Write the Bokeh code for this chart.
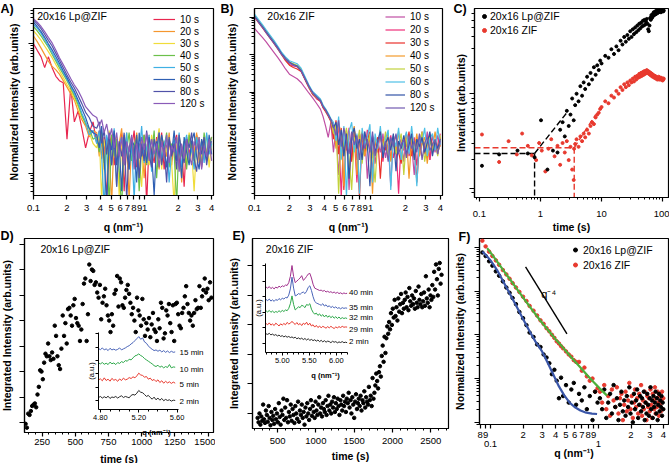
import numpy as np
from bokeh.plotting import figure
from bokeh.layouts import column, row
from bokeh.models import (Range1d, FixedTicker, LogAxis, Label, Legend, LegendItem,
                          CustomJSTickFormatter, NumeralTickFormatter)
from bokeh.embed import file_html
from bokeh.resources import INLINE

FONT = "Liberation Sans"
NAN = float("nan")

# ------------------------------------------------------------------ data
# Panels A/B: q grid (nm^-1) and log10 of the normalized intensity per time
Q_AB = [0.100, 0.108, 0.117, 0.126, 0.136, 0.147, 0.159, 0.171, 0.185, 0.200, 0.216, 0.233, 0.252, 0.272, 0.294, 0.317, 0.343,
        0.370, 0.390, 0.410, 0.432, 0.455, 0.479, 0.504, 0.531, 0.559, 0.589, 0.620, 0.653, 0.688, 0.724, 0.763, 0.803, 0.846, 0.891, 0.938, 0.988,
        1.040, 1.095, 1.153, 1.215, 1.279, 1.347, 1.419, 1.494, 1.573, 1.657, 1.745, 1.837, 1.935, 2.038, 2.146, 2.260, 2.380, 2.506, 2.639, 2.779, 2.927, 3.082, 3.246, 3.418, 3.600, 3.791, 3.992]
TIMES = ["10 s", "20 s", "30 s", "40 s", "50 s", "60 s", "80 s", "120 s"]

A_10 = [3.00, 2.85, 2.70, 2.45, 2.70, 2.45, 2.25, 2.15, 2.10, 0.80, 2.00, 1.20, 1.45, 1.05, 0.60, 0.95, 1.20,
        0.70, 1.00, 0.35, 0.85, -0.60, 0.65, 0.90, 0.20, 0.75, 0.50, 0.95, -0.40, 0.80, 0.30, 0.60, 1.00, 0.15, 0.70, 0.45, 0.90, -0.70, 0.75, 0.55, 0.25, 0.85, 0.40, 0.95, 0.10, 0.65, 0.80, 0.35, 0.70, 0.90, 0.20, 0.60, -0.30, 0.85, 0.45, 0.75, 0.30, 0.90, 0.55, 0.15, 0.80, 0.40, 0.65, 0.85]
A_20 = [3.18, 3.05, 2.90, 2.75, 2.60, 2.48, 2.40, 2.30, 2.15, 2.00, 1.85, 1.70, 1.45, 1.25, 1.10, 0.85, 1.00,
        0.95, 0.40, 0.75, 0.10, 0.85, 0.55, -0.70, 0.90, 0.30, 0.70, 1.05, 0.20, 0.65, -0.60, 0.80, 0.45, 0.95, 0.35, 0.75, -0.10, 0.60, 0.90, 0.25, 0.80, 0.50, 0.10, 0.85, 0.65, 0.40, 0.95, 0.20, 0.70, 0.55, 0.90, -0.20, 0.65, 0.80, 0.30, 0.75, 0.50, 0.95, 0.25, 0.60, 0.85, 0.40, 0.70, 0.55]
A_30 = [3.30, 3.20, 3.08, 2.95, 2.82, 2.68, 2.52, 2.38, 2.22, 2.06, 1.92, 1.75, 1.55, 1.30, 1.20, 0.95, 0.70,
        0.60, 0.90, -0.60, 0.80, 0.45, 1.00, 0.20, 0.65, 0.85, -0.50, 0.70, 0.40, 0.95, 0.15, 0.75, 0.55, 0.90, 0.30, -0.30, 0.80, 0.60, 0.20, 0.90, 0.45, 0.70, 1.05, 0.10, 0.75, 0.50, 0.85, 0.25, -0.70, 0.65, 0.90, 0.40, 0.75, 0.20, 0.95, 0.55, -0.40, 0.70, 0.85, 0.35, 0.60, 0.90, 0.15, 0.70]
A_40 = [3.40, 3.30, 3.18, 3.05, 2.92, 2.76, 2.60, 2.45, 2.30, 2.15, 1.98, 1.80, 1.60, 1.35, 1.15, 1.05, 0.80,
        0.85, 0.50, 0.95, 0.25, 0.70, -0.70, 0.90, 0.40, 0.80, 0.10, -0.80, 0.75, 0.55, 0.95, 0.30, 0.65, 0.85, -0.40, 0.60, 0.90, 0.20, 0.70, 0.45, 1.00, -0.10, 0.80, 0.35, 0.60, 0.95, 0.15, 0.70, 0.50, -0.70, 0.85, 0.40, 0.75, 0.10, 0.90, 0.55, 0.30, 0.80, 0.65, 0.20, 0.95, 0.45, 0.60, 0.85]
A_50 = [3.45, 3.36, 3.24, 3.10, 2.95, 2.80, 2.64, 2.50, 2.34, 2.18, 2.02, 1.85, 1.65, 1.40, 1.20, 0.90, 1.00,
        0.70, 1.00, 0.40, -0.80, 0.90, 0.60, 0.20, 1.05, -0.30, 0.65, 0.85, 0.35, 0.95, 0.10, 0.70, -0.60, 0.80, 0.45, 1.10, 0.25, 0.60, 0.90, 0.05, 0.75, 0.50, 0.95, 0.30, 0.70, 0.85, -0.20, 0.55, 0.80, 0.40, 0.95, 0.15, 0.65, 0.90, 0.35, 0.60, 0.10, 0.85, 0.50, 0.75, 0.25, 0.95, 0.45, 0.70]
A_60 = [3.50, 3.40, 3.28, 3.15, 3.00, 2.86, 2.70, 2.55, 2.38, 2.22, 2.05, 1.90, 1.70, 1.50, 1.30, 1.05, 0.95,
        0.90, 0.60, 1.10, 0.30, -0.70, 0.80, 0.55, 1.00, 0.20, 0.70, -0.40, 0.90, 0.50, 0.10, 0.80, 0.65, -0.20, 0.95, 0.40, 0.70, 0.25, 0.85, 0.50, -0.50, 0.75, 0.35, 0.90, 0.60, 0.15, 0.80, 0.45, 1.00, 0.30, 0.65, -0.10, 0.85, 0.50, 0.20, 0.75, 0.95, 0.40, 0.10, 0.80, 0.55, 0.30, 0.90, 0.45]
A_80 = [3.55, 3.46, 3.35, 3.22, 3.08, 2.95, 2.78, 2.62, 2.45, 2.28, 2.12, 1.98, 1.80, 1.62, 1.42, 1.30, 1.10,
        1.05, 1.20, 0.70, 1.00, 0.45, 0.95, 0.20, 0.85, -0.30, 0.75, 0.40, 0.95, -0.60, 0.60, 0.85, 0.25, 0.90, -0.10, 0.70, 0.30, 1.00, 0.45, 0.15, 0.80, 0.55, 0.95, 0.20, 0.60, -0.20, 0.85, 0.40, 0.70, 0.10, 0.90, 0.50, 0.25, 0.80, 0.60, 0.95, 0.35, 0.05, 0.70, 0.45, 0.85, 0.20, 0.60, 0.75]
A_120 = [3.58, 3.50, 3.40, 3.28, 3.15, 3.02, 2.85, 2.68, 2.52, 2.36, 2.20, 2.05, 1.92, 1.75, 1.55, 1.45, 1.35,
         1.30, 1.10, 1.25, 0.95, 1.15, 0.80, 1.05, 0.60, 0.95, 0.40, 0.85, 0.20, 0.75, 0.50, 0.90, 0.10, 0.70, 0.35, 0.85, 0.55, 0.95, 0.30, 0.80, 0.45, 0.70, 0.15, 0.75, 0.40, 0.90, 0.25, 0.65, 0.50, 0.85, 0.05, 0.70, 0.35, 0.80, 0.45, 0.20, 0.75, 0.55, 0.85, 0.10, 0.65, 0.40, 0.80, 0.30]
A_COLORS = ["#e8264f", "#f5962e", "#f0dc3a", "#6cc04a", "#3fb0e3", "#2f5fb3", "#5052a8", "#8a5bb8"]

B_10 = [3.70, 3.58, 3.46, 3.34, 3.20, 3.06, 2.92, 2.78, 2.62, 2.48, 2.42, 2.36, 2.26, 2.12, 1.98, 1.85, 1.70,
        1.55, 1.35, 1.10, 0.80, 1.20, 0.40, 1.05, -0.20, 0.85, 0.30, 1.00, -0.60, 0.70, 0.90, 0.20, 0.75, 0.45, 0.95, -0.30, 0.60, 0.80, 0.10, 0.70, 0.40, 0.90, 0.25, 0.65, -0.50, 0.85, 0.35, 0.55, 0.75, 0.15, 0.90, 0.45, 0.60, -0.20, 0.80, 0.30, 0.70, 0.50, 0.95, 0.20, 0.65, 0.40, 0.85, 0.55]
B_20 = [4.02, 3.88, 3.74, 3.60, 3.46, 3.32, 3.17, 3.02, 2.86, 2.74, 2.70, 2.68, 2.58, 2.36, 2.14, 1.95, 1.82,
        1.76, 1.60, 1.50, 1.38, 1.25, 1.00, 0.60, 1.15, -0.80, 0.95, 0.45, 1.05, 0.20, 0.85, -0.40, 0.90, 0.55, 0.30, 1.00, 0.65, -0.10, 0.80, 0.40, 0.95, 0.15, 0.70, 0.50, 0.85, 0.25, 0.60, -0.70, 0.75, 0.45, 0.90, 0.30, 0.55, 0.80, 0.05, 0.65, 0.95, 0.35, 0.70, 0.20, 0.85, 0.50, 0.60, 0.90]
B_30 = [4.00, 3.86, 3.72, 3.58, 3.44, 3.30, 3.15, 3.00, 2.84, 2.72, 2.66, 2.62, 2.55, 2.34, 2.12, 1.94, 1.85,
        1.75, 1.58, 1.48, 1.36, 1.22, 0.75, 1.25, 0.35, 1.05, -0.60, 0.90, 0.65, 0.15, 1.00, 0.50, -0.80, 0.85, 0.40, 0.70, 0.95, 0.25, 0.60, 0.80, -0.30, 0.75, 0.45, 0.90, 0.20, 0.65, 0.85, 0.40, 0.10, 0.80, 0.55, 0.95, 0.30, 0.70, -0.40, 0.60, 0.85, 0.45, 0.25, 0.90, 0.55, 0.70, 0.35, 0.80]
B_40 = [4.05, 3.91, 3.77, 3.63, 3.49, 3.35, 3.19, 3.04, 2.90, 2.80, 2.75, 2.70, 2.60, 2.38, 2.16, 1.98, 1.88,
        1.80, 1.64, 1.52, 1.40, 1.28, 1.10, 0.50, 1.20, 0.85, -0.50, 1.00, 0.40, 0.80, 1.10, -0.20, 0.70, 0.95, 0.30, 0.60, 0.85, -0.70, 0.75, 0.50, 1.00, 0.35, 0.65, 0.90, 0.15, 0.70, 0.45, 0.95, 0.25, 0.60, 0.85, -0.30, 0.75, 0.50, 0.90, 0.30, 0.65, 0.80, 0.10, 0.70, 0.50, 0.95, 0.40, 0.60]
B_50 = [4.04, 3.90, 3.76, 3.62, 3.48, 3.34, 3.18, 3.03, 2.89, 2.79, 2.76, 2.72, 2.61, 2.39, 2.15, 1.97, 1.86,
        1.79, 1.63, 1.54, 1.41, 1.27, 0.90, 1.15, -0.70, 0.95, 0.55, 1.05, 0.25, -0.60, 0.80, 0.60, 1.00, 0.10, 0.75, 0.45, 0.90, 0.30, -0.40, 0.70, 0.85, 0.50, 0.95, 0.20, 0.65, 0.80, 0.35, 0.60, 0.90, -0.20, 0.75, 0.45, 0.85, 0.25, 0.70, 0.55, 0.95, 0.15, 0.60, 0.80, 0.40, 0.70, 0.30, 0.85]
B_60 = [4.08, 3.94, 3.80, 3.66, 3.52, 3.38, 3.22, 3.07, 2.94, 2.84, 2.80, 2.76, 2.64, 2.42, 2.20, 2.02, 1.92,
        1.82, 1.66, 1.56, 1.44, 1.30, 1.20, 0.70, 1.35, 0.20, 1.10, -0.80, 0.95, 1.20, 0.40, 0.90, -0.70, 1.05, 0.60, 0.80, 1.15, -0.40, 0.90, 0.50, 1.10, 0.30, 0.75, 1.00, -0.60, 0.85, 0.55, 1.05, 0.20, 0.70, 0.95, 0.35, 1.10, 0.50, -0.50, 0.85, 0.65, 1.05, 0.30, 0.75, 0.90, 0.45, 1.05, 0.60]
B_80 = [4.03, 3.89, 3.75, 3.61, 3.47, 3.33, 3.18, 3.03, 2.90, 2.80, 2.74, 2.70, 2.58, 2.37, 2.16, 1.99, 1.88,
        1.78, 1.62, 1.53, 1.40, 1.27, 1.05, 1.20, 0.60, 1.00, 0.30, 0.90, -0.30, 0.80, 1.05, 0.50, 0.75, 0.20, 0.95, 0.60, -0.50, 0.85, 0.40, 0.70, 0.95, 0.25, 0.65, 0.80, 0.45, 0.90, -0.10, 0.70, 0.50, 0.85, 0.35, 0.60, 0.90, 0.20, 0.75, 0.55, 0.80, 0.40, 0.65, 0.95, 0.30, 0.70, 0.50, 0.75]
B_120 = [4.01, 3.87, 3.73, 3.59, 3.45, 3.31, 3.16, 3.01, 2.88, 2.78, 2.72, 2.68, 2.57, 2.36, 2.15, 1.98, 1.87,
         1.77, 1.61, 1.52, 1.39, 1.26, 1.10, 0.85, 1.25, 0.55, 1.05, 0.70, 0.35, 0.95, 0.60, 0.85, 0.20, 0.90, 0.50, 0.75, 0.40, 0.95, 0.30, 0.65, 0.85, 0.45, 0.70, 0.15, 0.80, 0.55, 0.90, 0.35, 0.60, 0.75, 0.25, 0.85, 0.50, 0.70, 0.40, 0.90, 0.20, 0.65, 0.80, 0.45, 0.60, 0.75, 0.35, 0.70]
B_COLORS = ["#c04fa3", "#ee2f7a", "#e9302a", "#f39a2a", "#c2d23c", "#4ec0e6", "#3253a6", "#7159b0"]

# Panel C: time (s) and log10 invariant
C_T_LP_EARLY = [0.11, 0.21, 0.42, 0.62, 0.8, 1.02, 1.3, 1.6, 1.9, 2.1, 2.3, 2.5, 2.7, 2.9, 3.1, 3.3, 3.5, 3.7, 3.9, 4.2,
                4.5, 4.8, 5.1, 5.4, 5.8, 6.2, 6.6, 7.0, 7.5, 8.0, 8.5, 9.0, 9.5]
C_LP_EARLY = [0.24, 0.36, 0.40, 0.37, 0.33, 0.72, 0.20, 0.40, 0.38, 0.62, 0.70, 0.55, 0.82, 0.66, 0.78, 0.95, 0.72, 0.88, 1.00, 0.92,
              1.08, 0.98, 1.12, 1.05, 1.18, 1.10, 1.22, 1.15, 1.28, 1.20, 1.30, 1.25, 1.35]
C_T_ZIF_EARLY = [0.11, 0.21, 0.3, 0.41, 0.5, 0.62, 0.72, 0.85, 0.95, 1.05, 1.2, 1.35, 1.5, 1.7, 1.9, 2.1, 2.3, 2.5, 2.7, 2.9,
                 3.1, 3.3, 3.5, 3.55, 3.7, 3.9, 4.2, 4.5, 4.8, 5.1, 5.4, 5.8, 6.2, 6.6, 7.0, 7.5, 8.0, 8.5, 9.0, 9.5]
C_ZIF_EARLY = [0.57, 0.28, 0.50, 0.36, 0.58, 0.45, 0.35, 0.30, 0.48, 0.40, 0.18, 0.42, 0.52, 0.34, 0.45, 0.25, 0.48, 0.38, 0.50, 0.30,
               0.44, 0.20, 0.09, 0.42, 0.47, 0.52, 0.44, 0.55, 0.50, 0.58, 0.54, 0.62, 0.58, 0.66, 0.70, 0.68, 0.75, 0.78, 0.80, 0.84]
C_T_LATE = list(np.arange(10.0, 106.0, 1.5))
C_LP_LATE = [1.32, 1.40, 1.38, 1.47, 1.42, 1.50, 1.46, 1.56, 1.52, 1.60, 1.55, 1.62, 1.58, 1.66, 1.60, 1.68, 1.63, 1.70, 1.65, 1.72,
             1.67, 1.74, 1.69, 1.75, 1.71, 1.77, 1.72, 1.78, 1.73, 1.76, 1.79, 1.74, 1.68, 1.66, 1.72, 1.80, 1.78, 1.83, 1.80, 1.84,
             1.82, 1.86, 1.83, 1.85, 1.87, 1.84, 1.86, 1.88, 1.85, 1.87, 1.89, 1.86, 1.88, 1.87, 1.89, 1.88, 1.86, 1.89, 1.88, 1.87,
             1.89, 1.88, 1.87, 1.88]
C_ZIF_LATE = [0.86, 0.92, 0.90, 0.98, 0.96, 1.03, 1.00, 1.07, 1.04, 1.10, 1.07, 1.12, 1.09, 1.14, 1.12, 1.16, 1.13, 1.18, 1.15, 1.19,
              1.17, 1.21, 1.18, 1.22, 1.19, 1.23, 1.20, 1.24, 1.21, 1.23, 1.25, 1.22, 1.24, 1.21, 1.23, 1.20, 1.22, 1.19, 1.21, 1.18,
              1.20, 1.19, 1.17, 1.19, 1.18, 1.16, 1.18, 1.17, 1.15, 1.17, 1.16, 1.18, 1.15, 1.17, 1.16, 1.15, 1.17, 1.16, 1.15, 1.16,
              1.14, 1.16, 1.15, 1.16]
# onset constructions (time, log10 level, end time, end log10 level)
C_LP_ONSET = (0.8, 0.37, 2.7, 0.80)
C_ZIF_ONSET = (3.57, 0.43, 8.0, 0.78)

# Panel D: time grid (s) and integrated intensity (arb.)
D_T = list(range(125, 1535, 10))
D_I = [0.95, 0.80, 1.35, 1.30, 1.45, 1.65, 1.70, 1.75, 1.60, 2.10,
       2.40, 3.05, 3.00, 2.70, 3.35, 3.70, 3.60, 4.10, 3.60, 3.45,
       3.75, 3.50, 4.80, 4.40, 3.60, 3.25, 3.10, 3.90, 5.20, 4.40,
       4.90, 4.10, 5.45, 5.50, 5.20, 4.80, 5.60, 5.85, 5.10, 4.90,
       4.80, 4.20, 4.65, 5.65, 6.45, 6.65, 4.20, 5.25, 7.20, 6.55,
       7.00, 6.95, 6.40, 6.50, 6.10, 5.90, 6.40, 5.05, 5.70, 5.95,
       6.25, 5.60, 5.20, 5.00, 4.55, 5.25, 4.80, 6.05, 6.20, 6.75,
       5.55, 6.65, 6.50, 5.60, 5.50, 5.90, 6.20, 6.40, 6.05, 5.70,
       5.25, 5.50, 5.00, 4.55, 5.90, 5.40, 5.20, 4.80, 5.85, 5.05,
       4.40, 4.90, 4.65, 5.10, 4.35, 4.85, 5.30, 4.65, 4.55, 4.20,
       5.05, 4.70, 5.70, 5.50, 4.30, 4.50, 5.40, 5.20, 5.65, 4.90,
       4.55, 5.60, 4.20, 5.65, 5.70, 5.25, 4.80, 4.70, 5.30, 5.50,
       5.95, 6.35, 5.65, 5.30, 5.00, 5.20, 4.80, 5.30, 5.80, 5.45,
       5.50, 6.35, 5.50, 5.95, 6.20, 6.65, 6.10, 6.25, 5.80, 6.50,
       5.90]
DI_Q = [round(4.78 + 0.02 * i, 2) for i in range(41)]
DI_2 = [1.22, 1.30, 1.18, 1.28, 1.20, 1.32, 1.15, 1.26, 1.22, 1.30, 1.18, 1.28, 1.35, 1.22, 1.30, 1.25, 1.20, 1.38, 1.45, 1.40,
        1.55, 1.75, 1.62, 1.58, 1.45, 1.30, 1.38, 1.22, 1.10, 1.25, 1.05, 1.18, 1.02, 1.15, 0.98, 1.08, 1.00, 1.05, 0.95, 1.02, 1.00]
DI_5 = [2.55, 2.62, 2.48, 2.70, 2.50, 2.60, 2.45, 2.66, 2.52, 2.58, 2.44, 2.62, 2.50, 2.68, 2.55, 2.60, 2.72, 2.65, 2.78, 2.70,
        2.85, 3.05, 2.92, 2.88, 2.75, 2.80, 2.60, 2.68, 2.50, 2.58, 2.42, 2.55, 2.35, 2.48, 2.30, 2.44, 2.32, 2.40, 2.28, 2.38, 2.30]
DI_10 = [3.82, 3.75, 3.85, 3.72, 3.80, 3.70, 3.88, 3.76, 3.82, 3.70, 3.85, 3.78, 3.92, 3.85, 4.00, 3.95, 4.10, 4.05, 4.20, 4.35,
         4.40, 4.50, 4.38, 4.30, 4.15, 4.05, 3.95, 3.85, 3.75, 3.62, 3.55, 3.65, 3.50, 3.58, 3.45, 3.55, 3.48, 3.70, 3.45, 3.52, 3.50]
DI_15 = [4.90, 4.82, 4.95, 4.80, 4.88, 4.75, 4.92, 4.80, 4.86, 4.78, 4.84, 4.95, 4.80, 4.88, 4.95, 5.05, 5.12, 5.25, 5.35, 5.50,
         5.65, 5.80, 5.60, 5.70, 5.40, 5.30, 5.10, 4.95, 4.85, 4.75, 4.80, 4.70, 4.78, 4.65, 4.75, 4.62, 4.72, 4.60, 4.70, 4.62, 4.65]
DI_LABELS = ["2 min", "5 min", "10 min", "15 min"]
DI_LABEL_Y = [0.95, 2.20, 3.31, 4.63]

# Panel E
E_T = list(range(240, 2652, 12))
E_I = [0.85, 0.70, 1.00, 0.62, 0.90, 0.75, 1.30, 0.80, 0.68, 1.10,
       0.95, 0.72, 1.25, 0.85, 0.60, 1.05, 0.78, 0.92, 0.65, 1.15,
       0.80, 1.00, 0.70, 1.35, 0.88, 0.62, 1.10, 0.95, 1.50, 0.78,
       1.20, 0.85, 1.45, 0.70, 1.05, 0.90, 1.30, 0.75, 1.15, 0.95,
       0.68, 1.25, 1.00, 0.82, 1.40, 0.72, 1.10, 0.95, 1.30, 0.85,
       1.05, 0.62, 1.20, 0.90, 1.35, 1.00, 0.78, 1.15, 1.45, 0.92,
       1.25, 1.05, 0.85, 1.40, 1.10, 0.95, 1.30, 1.55, 1.00, 1.20,
       0.90, 1.35, 1.15, 1.05, 1.45, 0.95, 1.25, 1.60, 1.10, 1.30,
       1.00, 1.40, 1.20, 1.55, 1.05, 1.35, 1.15, 1.50, 1.25, 0.95,
       1.45, 1.30, 1.10, 1.60, 1.25, 1.40, 1.05, 1.50, 1.35, 1.70,
       1.20, 1.45, 1.00, 1.55, 1.30, 0.85, 1.40, 1.65, 1.15, 1.35,
       1.50, 1.25, 1.60, 1.10, 1.45, 1.35, 1.75, 1.20, 1.55, 1.40,
       1.30, 1.90, 1.45, 1.60, 1.25, 2.20, 1.50, 1.70, 1.95, 2.35,
       2.10, 1.85, 2.40, 2.60, 2.25, 2.95, 3.30, 2.75, 3.60, 3.05,
       3.55, 3.95, 3.70, 4.10, 3.85, 4.40, 4.00, 4.55, 4.25, 4.85,
       4.30, 4.60, 4.15, 4.90, 4.45, 4.70, 5.05, 4.40, 4.75, 4.55,
       4.85, 5.10, 4.60, 4.95, 4.50, 5.25, 4.80, 4.65, 5.00, 4.70,
       4.90, 4.55, 5.15, 4.75, 4.60, 5.30, 4.85, 4.70, 5.05, 4.60,
       4.80, 5.10, 4.65, 5.65, 4.90, 4.75, 5.20, 4.60, 5.00, 4.85,
       5.35, 4.95, 5.80, 5.20, 6.05, 5.55, 5.00, 5.90, 6.10, 5.40,
       5.70]
EI_Q = [round(4.70 + 0.03 * i, 2) for i in range(51)]
EI_2 = [1.62, 1.58, 1.65, 1.55, 1.60, 1.52, 1.57, 1.48, 1.54, 1.45, 1.50, 1.42, 1.48, 1.40, 1.45, 1.38, 1.42, 1.35, 1.40, 1.30,
        1.36, 1.28, 1.34, 1.25, 1.32, 1.22, 1.30, 1.20, 1.26, 1.18, 1.24, 1.15, 1.22, 1.12, 1.20, 1.10, 1.18, 1.08, 1.15, 1.12,
        1.05, 1.14, 1.08, 1.12, 1.04, 1.10, 1.06, 1.12, 1.05, 1.08, 1.05]
EI_29 = [2.28, 2.20, 2.32, 2.18, 2.25, 2.15, 2.30, 2.22, 2.12, 2.26, 2.18, 2.28, 2.20, 2.35, 2.25, 2.30, 2.42, 2.30, 2.22, 2.34,
         2.20, 2.28, 2.15, 2.30, 2.22, 2.36, 2.18, 2.30, 2.12, 2.20, 2.05, 2.16, 2.02, 2.12, 2.00, 2.10, 2.04, 1.98, 2.08, 2.00,
         2.10, 2.02, 1.96, 2.06, 2.00, 2.08, 2.02, 2.10, 2.04, 2.06, 2.05]
EI_32 = [3.10, 3.02, 3.12, 3.00, 3.08, 2.98, 3.05, 3.00, 3.10, 3.02, 3.12, 3.05, 3.15, 3.10, 3.25, 3.55, 4.05, 3.50, 3.15, 3.25,
         3.35, 3.30, 3.45, 3.40, 3.30, 3.50, 3.45, 3.55, 3.20, 3.00, 2.88, 2.95, 2.80, 2.90, 2.75, 2.85, 2.70, 2.82, 2.68, 2.78,
         2.65, 2.75, 2.62, 2.72, 2.60, 2.70, 2.58, 2.66, 2.60, 2.64, 2.60]
EI_35 = [3.82, 3.75, 3.85, 3.72, 3.80, 3.70, 3.82, 3.76, 3.88, 3.80, 3.90, 3.85, 3.95, 3.92, 4.10, 4.50, 5.25, 4.55, 4.05, 4.10,
         4.20, 4.15, 4.25, 4.30, 4.20, 4.35, 4.60, 4.70, 4.40, 4.00, 3.70, 3.60, 3.55, 3.50, 3.45, 3.55, 3.40, 3.48, 3.35, 3.42,
         3.30, 3.38, 3.28, 3.35, 3.25, 3.30, 3.22, 3.30, 3.25, 3.28, 3.26]
EI_40 = [4.62, 4.55, 4.65, 4.52, 4.60, 4.50, 4.62, 4.55, 4.68, 4.60, 4.70, 4.65, 4.75, 4.72, 4.90, 5.30, 6.00, 5.30, 4.90, 5.00,
         5.10, 5.20, 5.35, 5.05, 5.15, 5.30, 5.45, 5.50, 5.20, 4.80, 4.55, 4.50, 4.45, 4.40, 4.42, 4.35, 4.40, 4.30, 4.35, 4.28,
         4.32, 4.25, 4.30, 4.22, 4.28, 4.20, 4.25, 4.18, 4.24, 4.20, 4.22]
EI_LABELS = ["2 min", "29 min", "32 min", "35 min", "40 min"]
EI_LABEL_Y = [1.13, 1.90, 2.67, 3.31, 4.27]

# Panel F: q (nm^-1) and log10 normalized intensity
F_Q = [0.084, 0.09, 0.097, 0.104, 0.112, 0.12, 0.13, 0.14, 0.15, 0.16, 0.172, 0.185, 0.2, 0.215, 0.23, 0.25, 0.27, 0.29, 0.31, 0.33,
       0.35, 0.37, 0.39, 0.41, 0.43, 0.45, 0.47, 0.5, 0.53, 0.56, 0.59, 0.62, 0.66, 0.7, 0.74, 0.78, 0.83, 0.88, 0.93, 0.98] + \
      [round(1.03 + 0.05 * i, 2) for i in range(60)]
F_LP = [3.88, 3.80, 3.68, 3.58, 3.45, 3.35, 3.22, 3.08, 2.96, 2.84, 2.70, 2.52, 2.38, 2.22, 2.05, 1.95, 1.78, 1.72, 1.55, 1.48,
        1.35, 1.10, 1.20, 0.95, 0.55, 1.02, 0.60, 0.85, 0.45, 0.75, 0.90, 0.40, 0.65, 0.50, 0.80, 0.30, 0.60, 0.05, 0.70, 0.45,
        0.55, 0.30, 0.75, 0.10, 0.45, 0.65, 0.20, 0.85, 0.35, 0.55, 0.05, 0.40, 0.70, 0.25, 0.50, 0.15, 0.60, 0.35, 0.80, 0.20,
        0.45, 0.00, 0.65, 0.30, 0.50, 0.75, 0.10, 0.40, 0.60, 0.25, 0.55, 0.35, 0.70, 0.05, 0.45, 0.20, 0.65, 0.40, 0.15, 0.55,
        0.80, 0.30, 0.50, 0.10, 0.60, 0.35, 0.45, 0.70, 0.20, 0.55, 0.05, 0.40, 0.65, 0.25, 0.50, 0.35, 0.60, 0.15, 0.45, 0.30]
F_ZIF = [4.15, 4.02, 3.90, 3.80, 3.70, 3.60, 3.48, 3.38, 3.28, 3.18, 3.08, 2.98, 2.87, 2.77, 2.66, 2.55, 2.44, 2.33, 2.25, 2.15,
         2.08, 2.00, 1.93, 1.85, 1.80, 1.74, 1.69, 1.62, 1.55, 1.50, 1.42, 1.38, 1.38, 1.18, 1.25, 1.05, 0.95, 1.00, 0.70, 0.78,
         0.70, 0.45, 0.85, 0.30, 0.60, 0.15, 0.75, 0.50, 0.35, 0.80, 0.20, 0.55, 0.65, 0.05, 0.40, 0.70, 0.25, 0.50, 0.90, 0.30,
         0.60, 0.10, 0.45, 0.75, 0.35, 0.55, 0.20, 0.65, 0.40, 0.85, 0.15, 0.50, 0.30, 0.70, 0.45, 0.05, 0.60, 0.35, 0.55, 0.25,
         0.75, 0.40, 0.10, 0.65, 0.50, 0.30, 0.80, 0.20, 0.55, 0.35, 0.70, 0.45, 0.15, 0.60, 0.40, 0.25, 0.50, 0.70, 0.30, 0.55]
F_FIT_LP_Q = [0.084, 0.09, 0.1, 0.115, 0.133, 0.15, 0.17, 0.2, 0.23, 0.26, 0.3, 0.34, 0.385, 0.43, 0.48, 0.54, 0.6, 0.68, 0.77, 0.87, 0.97]
F_FIT_LP = [3.90, 3.83, 3.70, 3.48, 3.19, 2.95, 2.70, 2.36, 2.08, 1.85, 1.62, 1.35, 1.07, 0.82, 0.62, 0.45, 0.35, 0.27, 0.22, 0.20, 0.19]
F_FIT_ZIF_Q = [0.093, 0.11, 0.13, 0.155, 0.18, 0.21, 0.25, 0.29, 0.34, 0.4, 0.46, 0.51, 0.6, 0.7, 0.79, 0.9, 1.03, 1.2]
F_FIT_ZIF = [3.98, 3.74, 3.49, 3.23, 3.01, 2.78, 2.53, 2.32, 2.11, 1.90, 1.73, 1.60, 1.40, 1.22, 1.07, 0.92, 0.77, 0.61]
F_SLOPE_Q = [0.211, 0.51]
F_SLOPE = [3.55, 2.02]

# tick positions / labels
AB_XTICKS = [0.1, 0.2, 0.3, 0.4, 0.5, 0.6, 0.7, 0.8, 0.9, 1, 2, 3, 4]
AB_XLABELS = ["0.1", "2", "3", "4", "5", "6", "7", "8", "9", "1", "2", "3", "4"]
F_XTICKS = [0.08, 0.09, 0.1, 0.2, 0.3, 0.4, 0.5, 0.6, 0.7, 0.8, 0.9, 1, 2, 3, 4]
F_XLABELS = ["8", "9", "", "2", "3", "4", "5", "6", "7", "8", "9", "", "2", "3", "4"]
DEC_TICKS = [0.1, 1]
DEC_LABELS = ["0.1", "1"]
C_XTICKS = [0.1, 1, 10, 100]
C_XLABELS = ["0.1", "1", "10", "100"]
D_XTICKS = [250, 500, 750, 1000, 1250, 1500]
E_XTICKS = [500, 1000, 1500, 2000, 2500]

PANEL_LETTERS = ["A)", "B)", "C)", "D)", "E)", "F)"]
PANEL_LETTER_XY = [(0, 1), (220, 1), (453, 1), (0, 228), (232, 228), (458, 229)]

BL, BT = 40, 4   # fixed left / top canvas borders of every panel


# ------------------------------------------------------------------ helpers
def pw(v):
    return [10.0 ** x for x in v]


def pair(x, y):
    n = min(len(x), len(y))
    return list(x[:n]), list(y[:n])


def log_minors(e0, e1):
    return [m * 10.0 ** e for e in range(e0, e1 + 1) for m in range(2, 10)]


def style_axis(ax, tick_font="9.5px", label_font="10.5px"):
    ax.axis_line_width = 1.2
    ax.axis_line_color = "black"
    ax.major_tick_line_width = 1.2
    ax.minor_tick_line_width = 1.0
    ax.major_tick_line_color = "black"
    ax.minor_tick_line_color = "black"
    ax.major_tick_out = 4
    ax.major_tick_in = 0
    ax.minor_tick_out = 2
    ax.minor_tick_in = 0
    ax.major_label_text_font = FONT
    ax.major_label_text_font_size = tick_font
    ax.major_label_text_color = "black"
    ax.axis_label_text_font = FONT
    ax.axis_label_text_font_size = label_font
    ax.axis_label_text_font_style = "bold"
    ax.axis_label_text_color = "black"


PLACED = []


def place(p, left, top):
    # each plot sits alone in its own wrapper, positioned absolutely on the page
    PLACED.append(row(p, styles={"position": "absolute", "left": f"{left}px", "top": f"{top}px"}))


def make_fig(fl, ft, fw, fh, xr, yr, xlog, ylog, br, ylabel, ystand):
    p = figure(frame_width=fw, frame_height=fh, x_range=Range1d(*xr), y_range=Range1d(*yr),
               x_axis_type="log" if xlog else "linear",
               y_axis_type="log" if ylog else "linear",
               title=None, output_backend="svg", toolbar_location=None,
               min_border_left=BL, min_border_right=br,
               min_border_top=BT, min_border_bottom=5,
               background_fill_color="white", border_fill_color=None)
    p.xgrid.visible = False
    p.ygrid.visible = False
    p.outline_line_color = "black"
    p.outline_line_width = 1.2
    p.outline_line_alpha = 1.0
    for ax in p.axis:
        style_axis(ax)
    ya = p.yaxis[0]
    ya.formatter = CustomJSTickFormatter(code="return ''")
    ya.major_label_standoff = 0
    ya.major_tick_out = 5
    ya.minor_tick_out = 3
    ya.axis_label = ylabel
    ya.axis_label_standoff = ystand
    place(p, fl - BL, ft - BT)
    return p


def q_axis_single(p, ticks, labels, std, als):
    a1 = p.xaxis[0]
    a1.ticker = FixedTicker(ticks=ticks, minor_ticks=[])
    a1.major_label_overrides = dict(zip(ticks, labels))
    a1.major_label_standoff = std
    a1.axis_label = "q (nm\u207b\u00b9)"
    a1.axis_label_standoff = als


def q_axes(p, ticks, labels, std1, std2, als):
    a1 = p.xaxis[0]
    a1.ticker = FixedTicker(ticks=ticks, minor_ticks=[])
    a1.major_label_overrides = dict(zip(ticks, labels))
    a1.major_label_standoff = std1
    a2 = LogAxis(ticker=FixedTicker(ticks=DEC_TICKS, minor_ticks=[]),
                 major_label_overrides=dict(zip(DEC_TICKS, DEC_LABELS)),
                 axis_label="q (nm\u207b\u00b9)")
    style_axis(a2)
    a2.axis_line_color = None
    a2.major_tick_out = 0
    a2.minor_tick_out = 0
    a2.major_tick_line_color = None
    a2.minor_tick_line_color = None
    a2.major_label_standoff = std2
    a2.axis_label_standoff = als
    p.add_layout(a2, "below")


def note(p, x, y, txt, size="10.5px"):
    p.add_layout(Label(x=x, y=y, text=txt, text_font=FONT, text_font_size=size,
                       text_color="black", text_baseline="middle", text_align="left"))


def legend(p, items, loc, gw, gh, standoff, size="10px"):
    p.add_layout(Legend(items=items, location=loc, orientation="vertical",
                        border_line_color=None, background_fill_alpha=0,
                        label_text_font=FONT, label_text_font_size=size, label_text_color="black",
                        glyph_width=gw, glyph_height=gh, label_height=gh, label_width=10,
                        label_standoff=standoff, spacing=0, padding=0, margin=0))


# ------------------------------------------------------------------ A
pA = make_fig(33, 8, 180, 187, (0.1, 4.15), (10 ** -0.5, 10 ** 3.815), True, True, 2,
              "Normalized Intensity (arb.units)", 9)
pA.yaxis[0].ticker = FixedTicker(ticks=[1, 10, 100, 1000], minor_ticks=log_minors(-1, 3))
q_axis_single(pA, AB_XTICKS, AB_XLABELS, 5, 7)
itemsA = []
for lab, vals, col in zip(TIMES, [A_10, A_20, A_30, A_40, A_50, A_60, A_80, A_120], A_COLORS):
    x, y = pair(Q_AB, vals)
    r = pA.line(x, pw(y), line_color=col, line_width=1.2)
    itemsA.append(LegendItem(label=lab, renderers=[r]))
legend(pA, itemsA, (120, 86), 22, 12, 5)
note(pA, 0.108, 10 ** 3.64, "20x16 Lp@ZIF")

# ------------------------------------------------------------------ B
pB = make_fig(254, 8, 188, 187, (0.1, 4.17), (10 ** -0.75, 10 ** 4.23), True, True, 2,
              "Normalized Intensity (arb.units)", 12)
pB.yaxis[0].ticker = FixedTicker(ticks=[1, 10, 100, 1000, 10000], minor_ticks=log_minors(-1, 4))
q_axis_single(pB, AB_XTICKS, AB_XLABELS, 5, 7)
itemsB = []
for lab, vals, col in zip(TIMES, [B_10, B_20, B_30, B_40, B_50, B_60, B_80, B_120], B_COLORS):
    x, y = pair(Q_AB, vals)
    r = pB.line(x, pw(y), line_color=col, line_width=1.2)
    itemsB.append(LegendItem(label=lab, renderers=[r]))
legend(pB, itemsB, (131, 81), 20, 13, 5)
note(pB, 0.129, 10 ** 4.04, "20x16 ZIF")

# ------------------------------------------------------------------ C
C_YMIN = 10 ** -0.095
pC = make_fig(474, 8, 194, 189, (0.083, 125), (C_YMIN, 10 ** 1.9), True, True, 1,
              "Invariant (arb.units)", 3)
pC.yaxis[0].ticker = FixedTicker(ticks=[1, 10], minor_ticks=log_minors(-1, 1))
ca = pC.xaxis[0]
ca.ticker = FixedTicker(ticks=C_XTICKS, minor_ticks=log_minors(-2, 1))
ca.major_label_overrides = dict(zip(C_XTICKS, C_XLABELS))
ca.major_label_standoff = 9
ca.axis_label = "time (s)"
ca.axis_label_standoff = 1
RED = "#e8392e"
for (t0, l0, t1, l1), col in [(C_LP_ONSET, "black"), (C_ZIF_ONSET, RED)]:
    pC.line([0.083, t0], [10 ** l0, 10 ** l0], line_color=col, line_width=1.4, line_dash="6 3")
    pC.line([t0, t0], [10 ** l0, C_YMIN], line_color=col, line_width=1.4, line_dash="6 3")
    pC.line([t0, t1], [10 ** l0, 10 ** l1], line_color=col, line_width=1.4, line_dash="6 3")
pC.scatter(C_T_ZIF_EARLY + C_T_LATE, pw(C_ZIF_EARLY + C_ZIF_LATE), size=3, color=RED)
pC.scatter(C_T_LP_EARLY + C_T_LATE, pw(C_LP_EARLY + C_LP_LATE), size=3, color="black")
lk = pC.scatter([NAN], [NAN], size=7, color="black")
lr = pC.scatter([NAN], [NAN], size=7, color=RED)
legend(pC, [LegendItem(label="20x16 Lp@ZIF", renderers=[lk]), LegendItem(label="20x16 ZIF", renderers=[lr])],
       (5, 160), 10, 14, 1, "10.5px")

# ------------------------------------------------------------------ D
pD = make_fig(24, 238, 189, 194, (117, 1541), (0.61, 8.22), False, False, 2,
              "Integrated Intensity (arb.units)", 7)
pD.yaxis[0].ticker = FixedTicker(ticks=[1, 2, 3, 4, 5, 6, 7, 8], minor_ticks=[])
da = pD.xaxis[0]
da.ticker = FixedTicker(ticks=D_XTICKS, minor_ticks=list(range(150, 1550, 50)))
da.major_label_standoff = 2
da.axis_label = "time (s)"
da.axis_label_standoff = 5
x, y = pair(D_T, D_I)
pD.scatter(x, y, size=3.5, color="black")
note(pD, 237, 7.8, "20x16 Lp@ZIF")

# ------------------------------------------------------------------ E
pE = make_fig(252, 238, 196, 190, (173, 2731), (0.49, 6.93), False, False, 2,
              "Integrated Intensity (arb.units)", 8)
pE.yaxis[0].ticker = FixedTicker(ticks=[1, 2, 3, 4, 5, 6], minor_ticks=[])
ea = pE.xaxis[0]
ea.ticker = FixedTicker(ticks=E_XTICKS, minor_ticks=list(range(200, 2800, 100)))
ea.major_label_standoff = 5
ea.axis_label = "time (s)"
ea.axis_label_standoff = 3
x, y = pair(E_T, E_I)
pE.scatter(x, y, size=3.5, color="black")
note(pE, 347, 6.57, "20x16 ZIF")

# ------------------------------------------------------------------ F
pF = make_fig(479, 238, 189, 186, (0.079, 4.45), (10 ** -0.05, 10 ** 4.2), True, True, 1,
              "Normalized Intensity (arb.units)", 9)
pF.yaxis[0].ticker = FixedTicker(ticks=[1, 10, 100, 1000, 10000], minor_ticks=log_minors(-1, 4))
q_axes(pF, F_XTICKS, F_XLABELS, 3, 0, -3)
x, y = pair(F_Q, F_ZIF)
pF.scatter(x, pw(y), size=3.5, color=RED)
x, y = pair(F_Q, F_LP)
pF.scatter(x, pw(y), size=3.5, color="black")
pF.line(F_FIT_LP_Q, pw(F_FIT_LP), line_color="#3a56a8", line_width=2.2)
pF.line(F_FIT_ZIF_Q, pw(F_FIT_ZIF), line_color="#4caf3a", line_width=2.2)
pF.line(F_SLOPE_Q, pw(F_SLOPE), line_color="black", line_width=1.4)
note(pF, 0.295, 10 ** 2.93, "q\u207b\u2074", "11px")
fk = pF.scatter([NAN], [NAN], size=7, color="black")
fr = pF.scatter([NAN], [NAN], size=7, color=RED)
legend(pF, [LegendItem(label="20x16 Lp@ZIF", renderers=[fk]), LegendItem(label="20x16 ZIF", renderers=[fr])],
       (91, 152), 10, 15, 3, "10.5px")


# ------------------------------------------------------------------ insets
def make_inset(fl, ft, fw, fh, xr, yr, xbounds, xticks, xminor):
    bl = 16
    p = figure(frame_width=fw, frame_height=fh, x_range=Range1d(*xr), y_range=Range1d(*yr),
               title=None, output_backend="svg", toolbar_location=None,
               min_border_left=bl, min_border_right=0, min_border_top=3, min_border_bottom=5,
               background_fill_color=None, border_fill_color=None)
    p.xgrid.visible = False
    p.ygrid.visible = False
    p.outline_line_color = None
    for ax in p.axis:
        style_axis(ax, "7.5px", "7.5px")
        ax.axis_line_width = 1.0
        ax.major_tick_line_width = 1.0
        ax.major_tick_out = 3
        ax.minor_tick_out = 2
        ax.major_label_standoff = 2
        ax.axis_label_standoff = 0
    xa = p.xaxis[0]
    xa.bounds = xbounds
    xa.ticker = FixedTicker(ticks=xticks, minor_ticks=xminor)
    xa.formatter = NumeralTickFormatter(format="0.00")
    xa.axis_label = "q (nm\u207b\u00b9)"
    xa.axis_label_standoff = 5
    ya = p.yaxis[0]
    ya.ticker = FixedTicker(ticks=[1, 2, 3, 4, 5, 6], minor_ticks=[])
    ya.formatter = CustomJSTickFormatter(code="return ''")
    ya.major_label_standoff = 0
    ya.axis_label = "(a.u.)"
    ya.axis_label_text_font_style = "normal"
    place(p, fl - bl, ft - 3)
    return p


iD = make_inset(98, 332, 116, 77, (4.78, 5.99), (0.32, 6.11), (4.78, 5.61), [4.8, 5.2, 5.6],
                [4.9, 5.0, 5.1, 5.3, 5.4, 5.5])
for vals, col in zip([DI_2, DI_5, DI_10, DI_15], ["#2a2a2a", RED, "#2ea84a", "#4a64b8"]):
    x, y = pair(DI_Q, vals)
    iD.line(x, y, line_color=col, line_width=1.0)
for lab, yy in zip(DI_LABELS, DI_LABEL_Y):
    note(iD, 5.625, yy, lab, "8px")

iE = make_inset(265, 263, 120, 89, (4.69, 6.91), (0.42, 6.13), (4.69, 6.21), [5.0, 5.5, 6.0],
                [4.7, 4.8, 4.9, 5.1, 5.2, 5.3, 5.4, 5.6, 5.7, 5.8, 5.9, 6.1, 6.2])
for vals, col in zip([EI_2, EI_29, EI_32, EI_35, EI_40], ["#2a2a2a", RED, "#2ea84a", "#4a64b8", "#a0308c"]):
    x, y = pair(EI_Q, vals)
    iE.line(x, y, line_color=col, line_width=1.0)
for lab, yy in zip(EI_LABELS, EI_LABEL_Y):
    note(iE, 6.235, yy, lab, "8px")

# ------------------------------------------------------------------ panel letters (overlay)
ov = figure(width=669, height=463, x_range=Range1d(0, 669), y_range=Range1d(463, 0),
            x_axis_location=None, y_axis_location=None, min_border=0, title=None,
            output_backend="svg", toolbar_location=None,
            background_fill_color=None, border_fill_color=None)
ov.outline_line_color = None
ov.grid.visible = False
for txt, (lx, ly) in zip(PANEL_LETTERS, PANEL_LETTER_XY):
    ov.add_layout(Label(x=lx, y=ly, text=txt, text_font=FONT, text_font_size="12.5px",
                        text_font_style="bold", text_color="black",
                        text_baseline="top", text_align="left"))
place(ov, 0, 0)

layout = column(*PLACED, width=669, height=463, sizing_mode="fixed",
                styles={"position": "relative", "overflow": "hidden"})
open("out.html", "w").write(file_html(layout, INLINE, title="SAXS panels"))
